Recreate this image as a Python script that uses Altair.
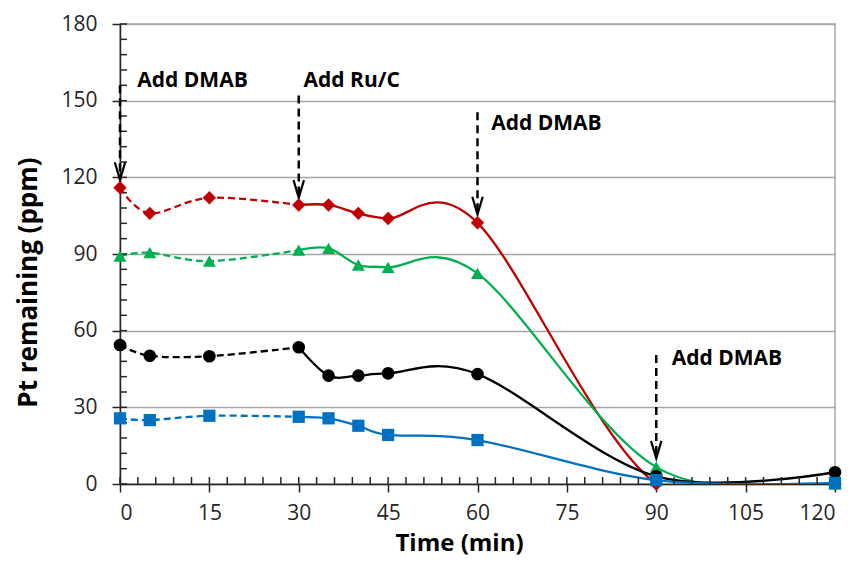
import pandas as pd
import altair as alt

times = [0, 5, 15, 30, 35, 40, 45, 60, 90, 120]
red = [115.9, 105.9, 112.0, 109.2, 109.2, 105.9, 103.9, 102.2, 0.0, 0.0]
green = [89.2, 90.5, 87.2, 91.5, 92.2, 85.7, 84.8, 82.4, 6.6, 0.0]
black = [54.4, 50.2, 50.0, 53.5, 42.4, 42.4, 43.3, 43.0, 3.0, 4.6]
blue = [25.7, 25.0, 26.7, 26.3, 25.7, 22.8, 19.2, 17.2, 1.5, 0.4]

series = ['red', 'green', 'black', 'blue']
colors = ['#C00000', '#00B050', '#000000', '#0070C0']
shapes = ['diamond', 'triangle-up', 'circle', 'square']
sizes = [180, 150, 115, 120]

arrow_t = [0, 30, 60, 90]
arrow_top = [156, 152, 145.5, 50.5]
arrow_tip = [119, 112, 105.5, 10]

note_t = [2.9, 30.8, 62.3, 92.6]
note_y = [157.7, 157.7, 140.8, 49.1]
note_text = ['Add DMAB', 'Add Ru/C', 'Add DMAB', 'Add DMAB']

y_ticks = [0, 30, 60, 90, 120, 150, 180]
x_ticks = [0, 15, 30, 45, 60, 75, 90, 105, 120]
y_minor = list(range(0, 181, 6))
x_minor = list(range(0, 121, 3))

rows = []
for name, vals in zip(series, [red, green, black, blue]):
    for i, (t, v) in enumerate(zip(times, vals)):
        rows.append({'series': name, 't': t, 'ppm': v, 'i': i})
df = pd.DataFrame(rows)
first = df[df['i'] <= 3]
second = df[df['i'] >= 3]

arrows = pd.DataFrame({'t': arrow_t, 'top': arrow_top, 'tip': arrow_tip})
notes = pd.DataFrame({'t': note_t, 'y': note_y, 'text': note_text})

FONT = 'Open Sans'
W, H = 715, 460

xs = alt.Scale(domain=[0, 120], nice=False)
ys = alt.Scale(domain=[0, 180], nice=False)
color = alt.Color('series:N', scale=alt.Scale(domain=series, range=colors), legend=None)

x_axis = alt.Axis(values=x_ticks, grid=False, title='Time (min)', labelFontSize=21,
                  labelFont=FONT, labelColor='#262626', labelPadding=10,
                  titleFont=FONT, titleFontSize=24, titleFontWeight='bold',
                  titleColor='#000000', titleX=339, titleY=66, titleBaseline='alphabetic',
                  domainColor='#262626', domainWidth=1.5, tickColor='#262626',
                  tickWidth=1.5, tickSize=8)
y_axis = alt.Axis(values=y_ticks, title='Pt remaining (ppm)', labelFontSize=21,
                  labelFont=FONT, labelColor='#262626', labelPadding=15,
                  titleFont=FONT, titleFontSize=26, titleFontWeight='bold',
                  titleColor='#000000', titleX=-92, titleY=258, titleAngle=270,
                  titleAlign='center', titleBaseline='middle',
                  gridColor='#A6A6A6', gridWidth=1.5,
                  domainColor='#262626', domainWidth=1.5, tickColor='#262626',
                  tickWidth=1.5, tickSize=8)

dashed = alt.Chart(first).mark_line(interpolate='cardinal', strokeWidth=2.3,
                                    strokeDash=[7, 4]).encode(
    x=alt.X('t:Q', scale=xs, axis=x_axis),
    y=alt.Y('ppm:Q', scale=ys, axis=y_axis),
    color=color,
    detail='series:N',
)

solid = alt.Chart(second).mark_line(interpolate='cardinal', strokeWidth=2.3, clip=True).encode(
    x=alt.X('t:Q', scale=xs),
    y=alt.Y('ppm:Q', scale=ys),
    color=color,
    detail='series:N',
)

points = alt.Chart(df).mark_point(filled=True, opacity=1).encode(
    x=alt.X('t:Q', scale=xs),
    y=alt.Y('ppm:Q', scale=ys),
    color=color,
    shape=alt.Shape('series:N', scale=alt.Scale(domain=series, range=shapes), legend=None),
    size=alt.Size('series:N', scale=alt.Scale(domain=series, range=sizes), legend=None),
)

arrow_lines = alt.Chart(arrows).mark_rule(color='black', strokeWidth=2.5,
                                          strokeDash=[8, 5]).encode(
    x=alt.X('t:Q', scale=xs),
    y=alt.Y('top:Q', scale=ys),
    y2='tip:Q',
)

arrow_heads = alt.Chart(arrows).mark_point(
    shape='M-0.65,-2.2L0,0L0.65,-2.2', size=256, filled=False, color='black',
    strokeWidth=2.2, opacity=1).encode(
    x=alt.X('t:Q', scale=xs),
    y=alt.Y('tip:Q', scale=ys),
)

labels = alt.Chart(notes).mark_text(align='left', baseline='middle', font=FONT,
                                    fontSize=21, fontWeight='bold', color='black').encode(
    x=alt.X('t:Q', scale=xs),
    y=alt.Y('y:Q', scale=ys),
    text='text:N',
)

y_minor_ticks = alt.Chart(pd.DataFrame({'v': y_minor})).mark_rule(
    color='#262626', strokeWidth=1.5).encode(
    y=alt.Y('v:Q', scale=ys), x=alt.value(0), x2=alt.value(7))

x_minor_ticks = alt.Chart(pd.DataFrame({'v': x_minor})).mark_rule(
    color='#262626', strokeWidth=1.5).encode(
    x=alt.X('v:Q', scale=xs), y=alt.value(H), y2=alt.value(H - 7))

chart = alt.layer(
    dashed, solid, y_minor_ticks, x_minor_ticks, arrow_lines, arrow_heads, points, labels
).properties(
    width=W, height=H,
    autosize=alt.AutoSizeParams(type='none'),
    padding={'left': 112, 'top': 16, 'right': 12, 'bottom': 74},
).configure_view(
    stroke='#A6A6A6', strokeWidth=1.5
)

chart.save('out.html', embed_options={'renderer': 'svg', 'actions': False})
